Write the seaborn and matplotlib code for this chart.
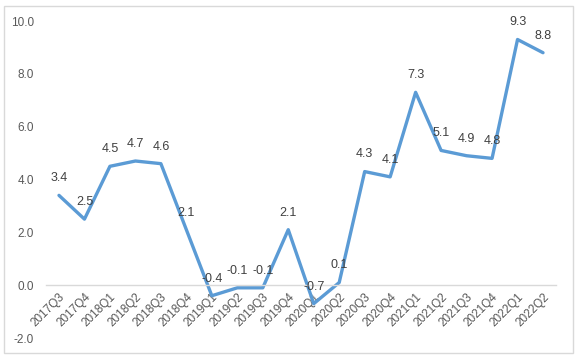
import matplotlib
matplotlib.use("Agg")
import matplotlib.pyplot as plt
import seaborn as sns
import pandas as pd
from matplotlib.patches import Rectangle

quarters = ["2017Q3", "2017Q4", "2018Q1", "2018Q2", "2018Q3", "2018Q4",
            "2019Q1", "2019Q2", "2019Q3", "2019Q4", "2020Q1", "2020Q2",
            "2020Q3", "2020Q4", "2021Q1", "2021Q2", "2021Q3", "2021Q4",
            "2022Q1", "2022Q2"]
values = [3.4, 2.5, 4.5, 4.7, 4.6, 2.1, -0.4, -0.1, -0.1, 2.1, -0.7, 0.1,
          4.3, 4.1, 7.3, 5.1, 4.9, 4.8, 9.3, 8.8]
yticks = [-2.0, 0.0, 2.0, 4.0, 6.0, 8.0, 10.0]

sns.set_theme(style="white")
plt.rcParams['font.family'] = ['Liberation Sans', 'DejaVu Sans']

df = pd.DataFrame({"q": quarters, "v": values})

fig = plt.figure(figsize=(5.78, 3.61), dpi=100)
ax = fig.add_axes([0.080, 0.0637, 0.8815, 0.8781])
sns.lineplot(data=df, x="q", y="v", ax=ax, color="#5B9BD5", linewidth=2.4,
             sort=False)

ax.set_xlim(-0.5, len(quarters) - 0.5)
ax.set_ylim(-2, 10)
ax.set_yticks(yticks)
ax.set_yticklabels([f"{t:.1f}" for t in yticks], color="#595959", fontsize=8.5)
ax.set_xlabel("")
ax.set_ylabel("")

for s in ["top", "right", "left"]:
    ax.spines[s].set_visible(False)
ax.spines["bottom"].set_position(("data", 0))
ax.spines["bottom"].set_color("#D9D9D9")
ax.spines["bottom"].set_linewidth(1.0)

ax.set_xticks(range(len(quarters)))
ax.set_xticklabels(quarters, rotation=45, ha="right", va="top",
                   rotation_mode="anchor", color="#595959", fontsize=8.5)
ax.tick_params(axis="x", length=0, pad=4)
ax.tick_params(axis="y", length=0, pad=9)

for i, v in enumerate(values):
    ax.annotate(f"{v:.1f}", (i, v), xytext=(0, 8), textcoords="offset points",
                ha="center", va="bottom", fontsize=9, color="#404040")

fig.patches.append(Rectangle((4 / 578, 1 - 353 / 361), 569 / 578, 347 / 361,
                             transform=fig.transFigure, fill=False,
                             edgecolor="#D9D9D9", linewidth=1.0))

fig.savefig("out.png", dpi=100)
